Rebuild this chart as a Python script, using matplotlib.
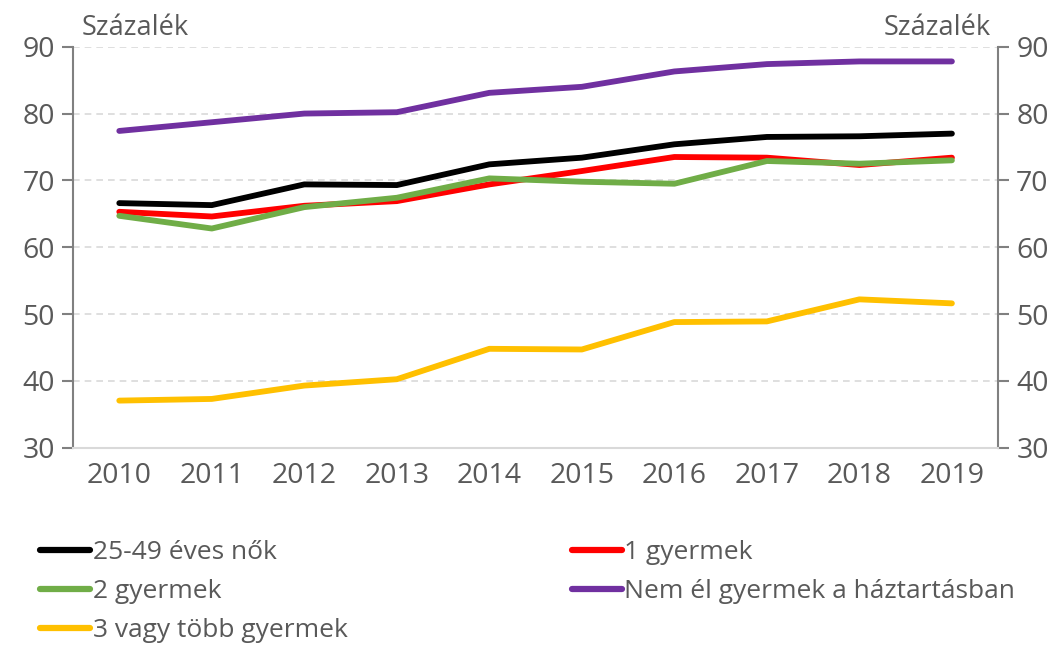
import matplotlib.pyplot as plt
from matplotlib.lines import Line2D

years = ["2010", "2011", "2012", "2013", "2014", "2015", "2016", "2017", "2018", "2019"]
women_25_49 = [66.6, 66.3, 69.4, 69.3, 72.4, 73.4, 75.4, 76.5, 76.6, 77.0]
one_child = [65.3, 64.6, 66.2, 66.9, 69.4, 71.4, 73.5, 73.4, 72.3, 73.4]
two_children = [64.7, 62.8, 66.0, 67.4, 70.3, 69.8, 69.5, 72.9, 72.5, 73.0]
no_child = [77.4, 78.7, 80.0, 80.2, 83.1, 84.0, 86.3, 87.4, 87.8, 87.8]
three_plus = [37.05, 37.3, 39.3, 40.25, 44.8, 44.7, 48.8, 48.9, 52.2, 51.6]

labels = ["25-49 éves nők", "1 gyermek", "2 gyermek",
          "Nem él gyermek a háztartásban", "3 vagy több gyermek"]
colors = ["#000000", "#ff0000", "#70ad47", "#7030a0", "#ffc000"]
yticks = [30, 40, 50, 60, 70, 80, 90]

plt.rcParams['font.family'] = ['Open Sans', 'DejaVu Sans']
txt = "#595959"

fig = plt.figure(figsize=(10.63, 6.59), dpi=100)
ax = fig.add_axes([0.0687, 0.3206, 0.8703, 0.6085])

x = list(range(len(years)))
series = [women_25_49, one_child, two_children, no_child, three_plus]
for vals, col, lab in zip(series, colors, labels):
    ax.plot(x, vals, color=col, lw=4.2, solid_capstyle="round",
            solid_joinstyle="round", label=lab, zorder=3)

ax.set_xlim(-0.5, len(years) - 0.5)
ax.set_ylim(30, 90)
ax.set_yticks(yticks)
ax.set_xticks(x)
ax.set_xticklabels(years)
ax.grid(axis="y", color="#d9d9d9", linestyle=(0, (4, 3)), lw=1.2, zorder=0)

grey = "#808080"
ax.spines["top"].set_visible(False)
ax.spines["left"].set_color(grey)
ax.spines["right"].set_color(grey)
ax.spines["left"].set_linewidth(1.5)
ax.spines["right"].set_linewidth(1.5)
ax.spines["bottom"].set_color("#d9d9d9")
ax.spines["bottom"].set_linewidth(1.5)

ax.tick_params(axis="x", length=0, labelsize=20.5, colors=txt, pad=10)
ax.tick_params(axis="y", length=8, width=1.5, color=grey, labelsize=20.5,
               labelcolor=txt, direction="out", pad=5,
               right=True, labelright=True)

fig.text(0.077, 0.957, "Százalék", fontsize=19.5, color=txt, ha="left", va="center")
fig.text(0.932, 0.957, "Százalék", fontsize=19.5, color=txt, ha="right", va="center")

# legend: row-wise order of the original -> column-wise for matplotlib
order = [0, 2, 4, 1, 3]
leg_handles = [Line2D([], [], color=colors[i], lw=4.5, solid_capstyle="round") for i in order]
fig.legend(leg_handles, [labels[i] for i in order], loc="upper left",
           bbox_to_anchor=(0.028, 0.196), ncol=2, frameon=False, fontsize=19,
           handlelength=1.9, handletextpad=0.08, columnspacing=8.5,
           labelspacing=0.52, labelcolor=txt, borderaxespad=0)

fig.savefig("out.png", dpi=100)
